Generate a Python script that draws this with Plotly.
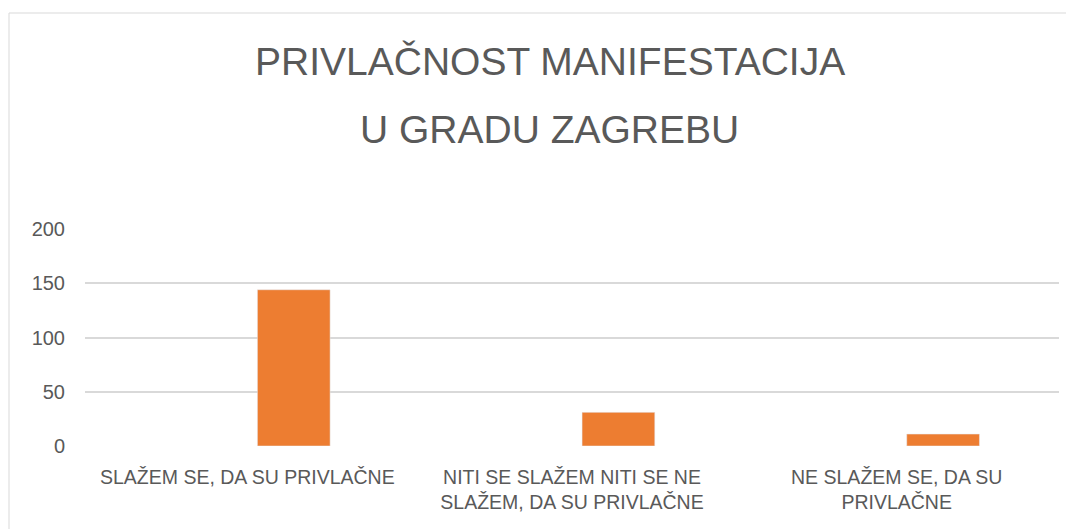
import plotly.graph_objects as go

categories = ["SLAŽEM SE, DA SU PRIVLAČNE",
              "NITI SE SLAŽEM NITI SE NE SLAŽEM, DA SU PRIVLAČNE",
              "NE SLAŽEM SE, DA SU PRIVLAČNE"]
tick_labels = ["SLAŽEM SE, DA SU PRIVLAČNE",
               "NITI SE SLAŽEM NITI SE NE<br>SLAŽEM, DA SU PRIVLAČNE",
               "NE SLAŽEM SE, DA SU<br>PRIVLAČNE"]
values = [144, 31, 11]
y_ticks = [0, 50, 100, 150, 200]
title_lines = ["PRIVLAČNOST MANIFESTACIJA", "U GRADU ZAGREBU"]

FONT = "Liberation Sans, Arial, sans-serif"
GREY = "#595959"

# plot area in screen px (page has an 8px body offset)
PL, PR, PT, PB = 85, 1059, 229, 446
OFF = 8


def px(x):
    return (x - PL) / (PR - PL)


def py(y):
    return (PB - y) / (PB - PT)


fig = go.Figure(go.Bar(x=categories, y=values, marker_color="#ED7D31",
                       width=0.224, offset=0.031, hoverinfo="x+y"))

fig.update_layout(
    width=1074, height=529,
    margin=dict(l=PL - OFF, r=1074 - (PR - OFF), t=PT - OFF, b=529 - (PB - OFF)),
    paper_bgcolor="white", plot_bgcolor="white",
    showlegend=False,
    font=dict(family=FONT, color=GREY),
    xaxis=dict(tickmode="array", tickvals=categories, ticktext=tick_labels,
               tickfont=dict(size=19.5, color=GREY), showgrid=False,
               showline=False, ticks="", range=[-0.5, 2.5],
               ticklabelstandoff=17),
    yaxis=dict(range=[0, 200], tickvals=y_ticks, showgrid=True,
               gridcolor="#d9d9d9", gridwidth=1.5, zeroline=False,
               tickfont=dict(size=20, color=GREY), ticks="", ticklen=0,
               showline=False, ticklabelstandoff=19),
    shapes=[dict(type="rect", xref="paper", yref="paper",
                 x0=px(9), x1=1.2, y0=-0.6, y1=py(13),
                 line=dict(color="#d9d9d9", width=1), layer="below")],
    annotations=[
        dict(text=title_lines[0], xref="paper", yref="paper",
             x=px(549.5), y=py(62), showarrow=False,
             xanchor="center", yanchor="middle",
             font=dict(family=FONT, size=39, color=GREY)),
        dict(text=title_lines[1], xref="paper", yref="paper",
             x=px(549.5), y=py(129), showarrow=False,
             xanchor="center", yanchor="middle",
             font=dict(family=FONT, size=39, color=GREY)),
    ],
)

fig.write_html("out.html")
